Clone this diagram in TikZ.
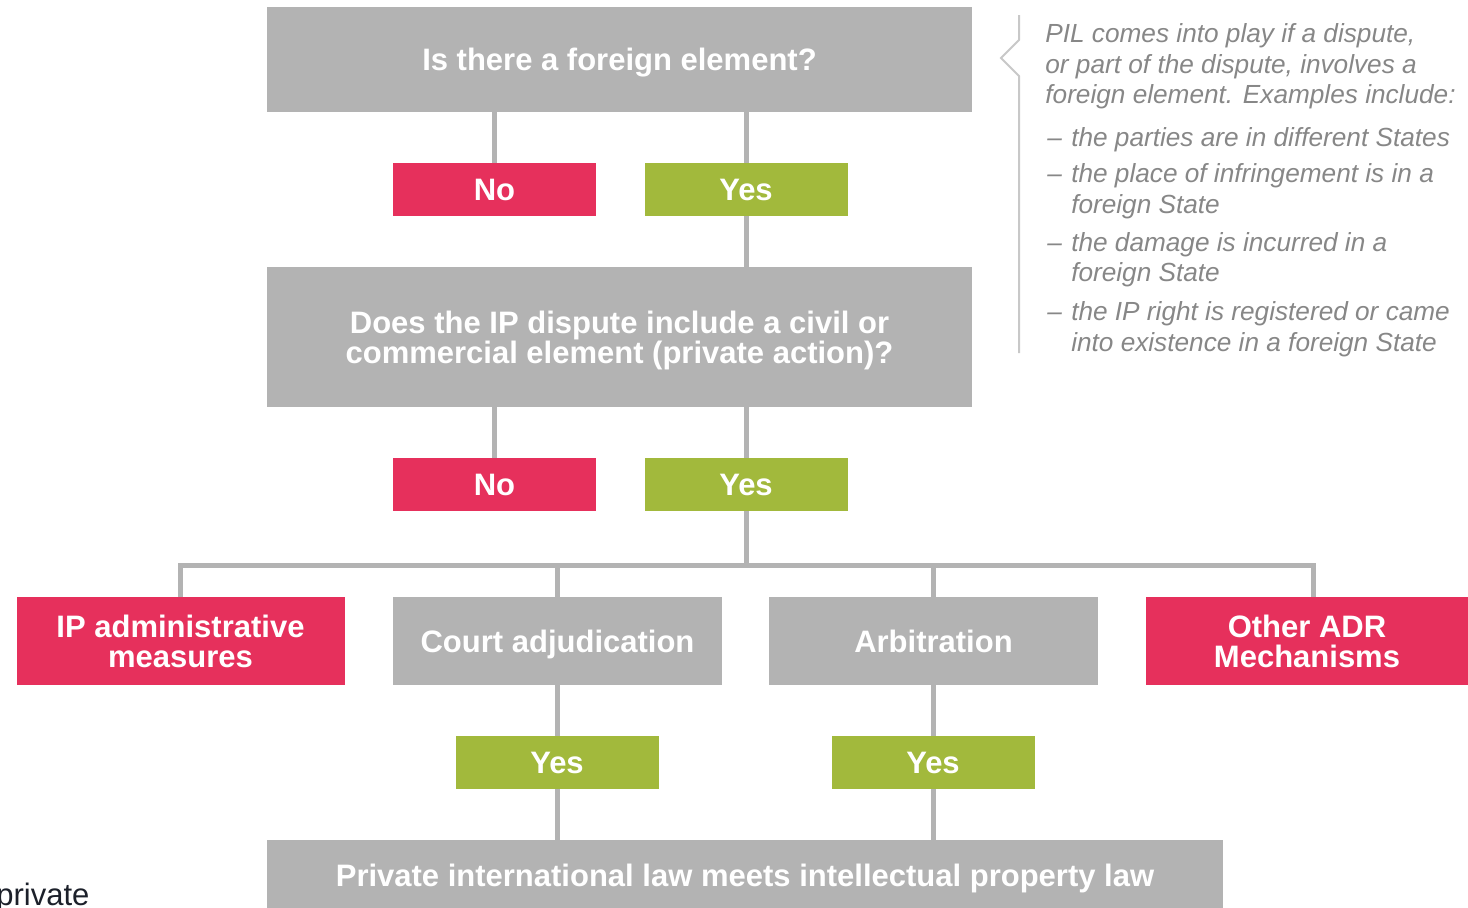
\documentclass[tikz,border=0pt]{standalone}
\usepackage{fontspec}
\setmainfont{Liberation Sans}
\usetikzlibrary{positioning}
\definecolor{boxgrey}{RGB}{179,179,179}
\definecolor{nored}{RGB}{230,48,92}
\definecolor{yesgreen}{RGB}{162,185,60}
\definecolor{notegrey}{RGB}{135,135,135}
\definecolor{bracegrey}{RGB}{200,200,200}
\definecolor{inkdark}{RGB}{28,32,42}
\begin{document}
\begin{tikzpicture}[x=0.5pt,y=-0.5pt]
  \tikzstyle{box}=[inner sep=0pt,outer sep=0pt,text=white,align=center,font=\fontsize{15.5}{15}\selectfont\bfseries]
  \tikzstyle{oneline}=[text height=13.9pt,text depth=2.8pt]
  \tikzstyle{question}=[box,fill=boxgrey,minimum width=352.5pt]
  \tikzstyle{answer}=[box,oneline,minimum width=101.5pt,minimum height=26.5pt]
  \tikzstyle{noans}=[answer,fill=nored]
  \tikzstyle{yesans}=[answer,fill=yesgreen]
  \tikzstyle{route}=[box,minimum height=44pt]
  \tikzstyle{link}=[draw=boxgrey,line width=2.5pt]
  \tikzstyle{note}=[inner sep=0pt,align=left,text=notegrey,font=\fontsize{13.1}{15.4}\selectfont\itshape]
  \useasboundingbox (0,0) rectangle (1468,907);

  % questions and answers
  \node[question,oneline,minimum height=52.5pt] (q1) at (619.5,59.5) {Is there a foreign element?};
  \node[noans] (no1) at (494.5,189.5) {No};
  \node[yesans] (yes1) at (746,189.5) {Yes};
  \node[question,minimum height=70pt] (q2) at (619.5,337) {\rule{0pt}{14.4pt}Does the IP dispute include a civil or\\commercial element (private action)?};
  \node[noans] (no2) at (494.5,484.5) {No};
  \node[yesans] (yes2) at (746,484.5) {Yes};
  \coordinate (bus) at (746,565);

  % routes
  \node[route,fill=nored,minimum width=164pt] (admin) at (180.5,641) {IP administrative\\measures};
  \node[route,oneline,fill=boxgrey,minimum width=164.5pt] (court) at (557.5,641) {Court adjudication};
  \node[route,oneline,fill=boxgrey,minimum width=164.5pt] (arb) at (933.5,641) {Arbitration};
  \node[route,fill=nored,minimum width=161pt] (adr) at (1307,641) {Other ADR\\Mechanisms};
  \node[yesans] (yes3) at (557,762.5) {Yes};
  \node[yesans] (yes4) at (933,762.5) {Yes};
  \node[question,oneline,minimum width=478pt,minimum height=35pt] (meet) at (745,875) {Private international law meets intellectual property law};

  \path[link] (no1.north) -- (no1 |- q1.south);
  \path[link] (yes1.north) -- (yes1 |- q1.south);
  \path[link] (yes1.south) -- (yes1 |- q2.north);
  \path[link] (no2.north) -- (no2 |- q2.south);
  \path[link] (yes2.north) -- (yes2 |- q2.south);
  \path[link] (yes2.south) -- (bus);
  \path[link] (admin.north) |- (bus) -| ([xshift=3pt]adr.north);
  \path[link] (court.north) -- (court |- bus);
  \path[link] (arb.north) -- (arb |- bus);
  \path[link] (yes3.north) -- (yes3 |- court.south);
  \path[link] (yes3.south) -- (yes3 |- meet.north);
  \path[link] (yes4.north) -- (yes4 |- arb.south);
  \path[link] (yes4.south) -- (yes4 |- meet.north);

  % side note with its bracket
  \draw[bracegrey,line width=1pt] (1019,15) -- (1019,40) -- (1001,58) -- (1019,76) -- (1019,353);
  \node[note,anchor=north west] (pil) at (1045,23) {PIL comes into play if a dispute,\\
    or part of the dispute, involves a\\
    foreign element. Examples include:\\[6pt]
    \hspace{1pt}--\hspace{1pt} the parties are in different States\\[2.5pt]
    \hspace{1pt}--\hspace{1pt} the place of infringement is in a\\
    \hspace{2pt}\phantom{--}\ foreign State\\[3.5pt]
    \hspace{1pt}--\hspace{1pt} the damage is incurred in a\\
    \hspace{2pt}\phantom{--}\ foreign State\\[4pt]
    \hspace{1pt}--\hspace{1pt} the IP right is registered or came\\
    \hspace{2pt}\phantom{--}\ into existence in a foreign State};

  \node[inner sep=0pt,anchor=base west,text=inkdark,font=\fontsize{15.5}{17}\selectfont] (cut) at (-4,905) {private};
\end{tikzpicture}
\end{document}
